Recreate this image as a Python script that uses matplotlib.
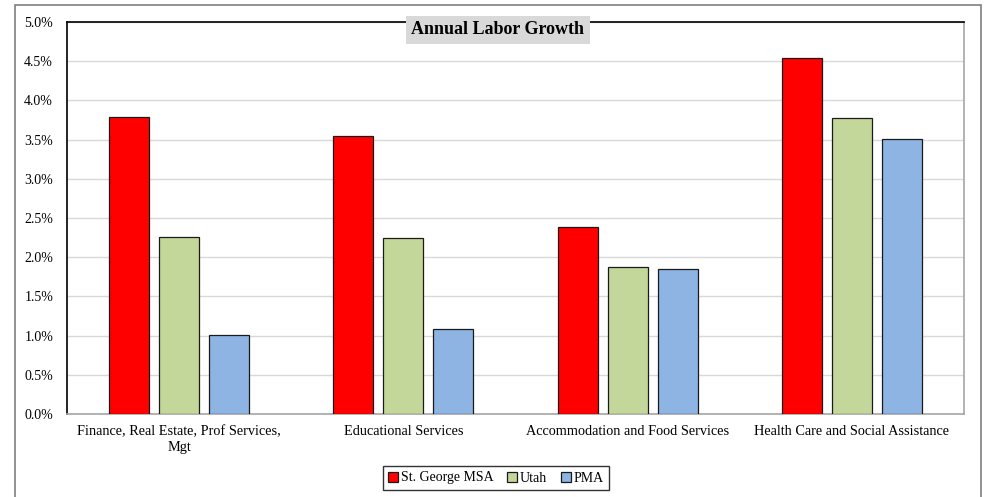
import numpy as np
import matplotlib
matplotlib.use("Agg")
import matplotlib.pyplot as plt
from matplotlib.patches import Rectangle
from matplotlib.ticker import PercentFormatter

# Annual labor growth by industry (percent)
categories = ["Finance, Real Estate, Prof Services,\nMgt", "Educational Services",
              "Accommodation and Food Services", "Health Care and Social Assistance"]
series_names = ["St. George MSA", "Utah", "PMA"]
st_george = [3.79, 3.55, 2.38, 4.54]
utah = [2.26, 2.24, 1.88, 3.77]
pma = [1.01, 1.08, 1.85, 3.51]
y_ticks = [0.0, 0.5, 1.0, 1.5, 2.0, 2.5, 3.0, 3.5, 4.0, 4.5, 5.0]

colors = ["#ff0000", "#c4d79b", "#8db4e2"]

plt.rcParams["font.family"] = ["Liberation Serif", "DejaVu Serif"]

W, H = 987, 497
fig = plt.figure(figsize=(W / 100, H / 100), dpi=100)
ax = fig.add_axes([67 / W, 1 - 414 / H, (964 - 67) / W, (414 - 22) / H])

# outer chart border
fig.patches.append(Rectangle((15 / W, -0.05), (981 - 15) / W, 1 - 5 / H + 0.05,
                             transform=fig.transFigure, fill=False,
                             edgecolor="#7f7f7f", linewidth=1.2, zorder=0))

x = np.arange(len(categories))
width = 0.178
step = 0.223
for i, (vals, name) in enumerate(zip([st_george, utah, pma], series_names)):
    ax.bar(x + (i - 1) * step, vals, width, color=colors[i], edgecolor="#1a1a1a",
           linewidth=0.9, label=name, zorder=3)

ax.set_xlim(-0.5, len(categories) - 0.5)
ax.set_ylim(0, 5.0)
ax.set_yticks(y_ticks)
ax.yaxis.set_major_formatter(PercentFormatter(decimals=1))
ax.set_xticks(x)
ax.set_xticklabels(categories, fontsize=10.3, linespacing=1.3)
ax.tick_params(axis="y", labelsize=10, length=0, pad=10)
ax.tick_params(axis="x", length=0, pad=8)
ax.grid(axis="y", color="#d9d9d9", linewidth=1.0, zorder=0)

for side in ["top", "left"]:
    ax.spines[side].set_color("#000000")
    ax.spines[side].set_linewidth(1.2)
for side in ["bottom", "right"]:
    ax.spines[side].set_color("#a6a6a6")
    ax.spines[side].set_linewidth(1.2)

fig.text(498 / W, 1 - 30 / H, "Annual Labor Growth", ha="center", va="center",
         fontsize=13, fontweight="bold",
         bbox=dict(boxstyle="square,pad=0.3", facecolor="#d9d9d9", edgecolor="none"))

leg = fig.legend(loc="center", bbox_to_anchor=(496 / W, 1 - 478 / H), ncol=3,
                 fontsize=10, frameon=True, fancybox=False, edgecolor="#000000",
                 handlelength=0.7, handleheight=0.7, handletextpad=0.2,
                 columnspacing=1.0, borderpad=0.4, borderaxespad=0)
leg.get_frame().set_linewidth(1.0)

fig.savefig("out.png", dpi=100)
